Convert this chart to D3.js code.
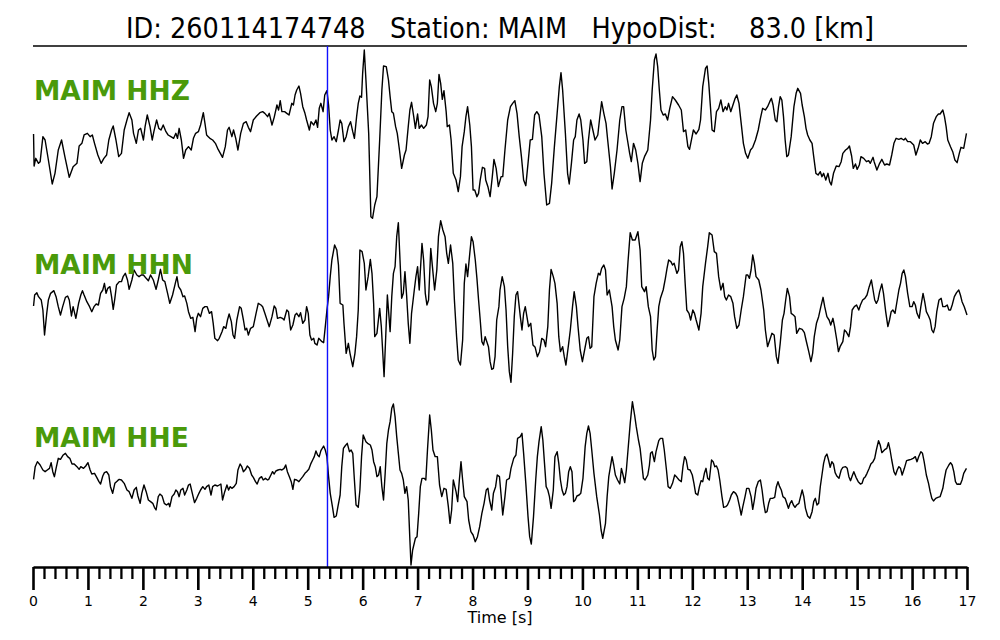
<!DOCTYPE html>
<html>
<head>
<meta charset="utf-8">
<script src="https://cdn.jsdelivr.net/npm/d3@7"></script>
<style>
  html, body { margin: 0; padding: 0; background: #fff; }
  svg { display: block; font-family: "DejaVu Sans", sans-serif; }
</style>
</head>
<body>
<svg id="chart" width="1000" height="640"></svg>
<script>
// ---------------- data ----------------
const eventId = "260114174748";
const station = "MAIM";
const hypoDist = "83.0";
const channels = ["MAIM HHZ", "MAIM HHN", "MAIM HHE"];
const pickTime = 5.36;           // P arrival marker [s]
const majorTicks = d3.range(0, 18, 1);
const minorTicks = d3.range(0, 85, 1).map(i => i / 5).filter(v => v % 1 !== 0);

// [time s, amplitude counts]
const hhz = [[0.01,-5],[0.02,-101],[0.05,-78],[0.10,-93],[0.13,-88],[0.18,-13],[0.22,-23],[0.28,-83],[0.35,-155],[0.40,-123],[0.46,-53],[0.52,-23],[0.58,-73],[0.66,-135],[0.73,-103],[0.80,-93],[0.84,-41],[0.89,-33],[0.93,-8],[0.99,-3],[1.04,-13],[1.08,-8],[1.12,-33],[1.18,-68],[1.24,-93],[1.29,-78],[1.34,-68],[1.38,-23],[1.43,7],[1.46,19],[1.51,-23],[1.56,-73],[1.61,-63],[1.66,7],[1.71,37],[1.75,59],[1.80,37],[1.83,-3],[1.88,-33],[1.92,7],[1.96,12],[2.01,-23],[2.04,17],[2.08,52],[2.13,17],[2.17,-23],[2.20,2],[2.25,37],[2.29,12],[2.33,7],[2.37,22],[2.42,2],[2.46,-8],[2.51,-13],[2.56,-18],[2.60,-3],[2.63,-18],[2.66,12],[2.70,-23],[2.74,-78],[2.78,-53],[2.83,-43],[2.88,-53],[2.92,-18],[2.96,-3],[3.01,2],[3.05,22],[3.10,59],[3.13,27],[3.16,-8],[3.19,-13],[3.22,-18],[3.27,-23],[3.32,-33],[3.36,-48],[3.41,-63],[3.45,-75],[3.50,-43],[3.54,7],[3.57,15],[3.62,-13],[3.65,7],[3.69,-18],[3.73,-53],[3.78,-3],[3.83,27],[3.88,32],[3.92,15],[3.96,2],[4.01,37],[4.07,49],[4.13,59],[4.18,62],[4.22,57],[4.27,47],[4.30,57],[4.35,22],[4.39,45],[4.44,82],[4.47,67],[4.50,95],[4.53,62],[4.58,62],[4.62,57],[4.66,52],[4.71,87],[4.74,82],[4.77,112],[4.80,127],[4.84,139],[4.87,117],[4.91,77],[4.95,57],[4.98,37],[5.03,7],[5.06,32],[5.11,22],[5.15,37],[5.18,15],[5.21,72],[5.24,87],[5.28,62],[5.31,112],[5.35,125],[5.38,82],[5.41,7],[5.44,-23],[5.48,-13],[5.52,-28],[5.56,7],
[5.59,37],[5.62,27],[5.66,-28],[5.70,-13],[5.74,17],[5.78,32],[5.82,2],[5.85,-18],[5.89,47],[5.92,87],[5.95,109],[5.98,105],[6.00,177],[6.03,247],[6.06,157],[6.11,-3],[6.15,-253],[6.18,-258],[6.22,-218],[6.26,-193],[6.31,-23],[6.35,127],[6.38,199],[6.43,197],[6.47,157],[6.50,107],[6.53,62],[6.56,57],[6.60,17],[6.63,-3],[6.67,-53],[6.71,-108],[6.76,-68],[6.79,-53],[6.83,17],[6.86,67],[6.89,90],[6.93,47],[6.96,12],[7.00,55],[7.03,12],[7.07,22],[7.11,12],[7.16,22],[7.19,47],[7.22,157],[7.25,137],[7.29,87],[7.33,62],[7.36,87],[7.39,174],[7.42,147],[7.45,99],[7.48,125],[7.52,62],[7.54,17],[7.58,22],[7.61,-23],[7.65,-123],[7.70,-143],[7.74,-178],[7.78,-133],[7.81,-43],[7.85,2],[7.88,47],[7.91,77],[7.95,22],[7.98,-43],[8.01,-173],[8.04,-173],[8.08,-193],[8.11,-183],[8.14,-143],[8.18,-105],[8.22,-108],[8.24,-143],[8.28,-163],[8.32,-193],[8.36,-133],[8.39,-81],[8.43,-108],[8.47,-163],[8.52,-133],[8.55,-133],[8.59,-53],[8.64,37],[8.69,77],[8.73,87],[8.77,95],[8.81,57],[8.85,-13],[8.89,-73],[8.93,-143],[8.97,-160],[9.01,-93],[9.05,-23],[9.09,-21],[9.13,52],[9.17,62],[9.21,52],[9.26,-13],[9.30,-123],[9.35,-218],[9.40,-213],[9.44,-153],[9.49,-43],[9.54,57],[9.58,137],[9.61,179],[9.64,127],[9.69,-3],[9.73,-123],[9.76,-155],[9.80,-93],[9.84,-23],[9.87,-13],[9.90,37],[9.94,55],[9.97,37],[10.01,-23],[10.04,-93],[10.08,-88],[10.11,-23],[10.15,37],[10.19,7],[10.23,-23],[10.28,-8],[10.31,37],[10.35,92],[10.39,57],[10.43,27],[10.46,-23],[10.51,-103],[10.54,-170],[10.58,-123],[10.63,-53],[10.68,37],[10.72,77],[10.75,77],[10.79,7],[10.82,-23],[10.86,-63],[10.89,-88],[10.93,-33],[10.97,-53],[11.01,-93],[11.05,-148],[11.09,-93],[11.13,-73],[11.16,-63],[11.19,-53],[11.24,37],
[11.27,127],[11.31,217],[11.34,235],[11.37,197],[11.40,127],[11.43,67],[11.47,52],[11.51,55],[11.55,37],[11.59,72],[11.64,107],[11.69,97],[11.75,82],[11.80,67],[11.84,2],[11.88,7],[11.92,-43],[11.95,-51],[11.99,-18],[12.02,7],[12.07,-5],[12.12,9],[12.15,37],[12.19,137],[12.24,192],[12.27,199],[12.30,147],[12.33,77],[12.36,7],[12.40,2],[12.44,62],[12.48,72],[12.52,97],[12.56,62],[12.60,77],[12.63,67],[12.66,87],[12.70,62],[12.74,82],[12.78,102],[12.81,112],[12.85,87],[12.89,27],[12.93,-33],[12.97,-63],[13.01,-78],[13.06,-53],[13.10,-45],[13.15,-23],[13.20,7],[13.24,42],[13.28,72],[13.33,67],[13.37,77],[13.41,92],[13.44,102],[13.47,82],[13.51,37],[13.54,32],[13.57,77],[13.60,107],[13.63,97],[13.66,47],[13.69,-23],[13.72,-73],[13.75,-68],[13.80,-13],[13.85,77],[13.89,117],[13.92,132],[13.97,117],[14.00,82],[14.04,47],[14.07,12],[14.10,-8],[14.14,-23],[14.18,-33],[14.21,-73],[14.25,-123],[14.29,-128],[14.33,-118],[14.36,-133],[14.39,-123],[14.43,-143],[14.47,-123],[14.50,-148],[14.53,-158],[14.57,-123],[14.62,-101],[14.67,-103],[14.71,-88],[14.74,-63],[14.79,-53],[14.83,-48],[14.86,-41],[14.90,-71],[14.93,-108],[14.97,-95],[15.00,-111],[15.04,-98],[15.07,-73],[15.12,-78],[15.17,-88],[15.21,-85],[15.24,-93],[15.29,-75],[15.31,-88],[15.36,-113],[15.41,-93],[15.45,-81],[15.50,-98],[15.54,-95],[15.59,-98],[15.63,-68],[15.67,-33],[15.71,-18],[15.76,-21],[15.80,-18],[15.85,-23],[15.88,-18],[15.92,-28],[15.97,-28],[16.03,-38],[16.07,-68],[16.11,-48],[16.15,-23],[16.19,-33],[16.24,-28],[16.28,-35],[16.31,-33],[16.35,-13],[16.39,27],[16.44,47],[16.48,55],[16.51,55],[16.56,67],[16.59,47],[16.62,17],[16.65,-23],[16.70,-43],[16.74,-58],[16.78,-83],[16.82,-91],[16.86,-63],[16.89,-45],[16.94,-48],[16.99,-3]];

const hhn = [[0.01,-15],[0.03,18],[0.07,25],[0.10,13],[0.15,3],[0.18,-27],[0.21,-102],[0.25,-37],[0.28,3],[0.32,23],[0.38,31],[0.42,13],[0.46,-17],[0.50,-42],[0.54,-17],[0.59,11],[0.63,15],[0.66,3],[0.70,-45],[0.73,-17],[0.78,-52],[0.83,-7],[0.87,18],[0.90,31],[0.93,18],[0.98,-2],[1.03,-17],[1.07,-32],[1.11,-17],[1.15,-9],[1.19,-12],[1.23,23],[1.27,33],[1.30,53],[1.33,23],[1.36,38],[1.40,43],[1.43,13],[1.46,-25],[1.49,8],[1.52,48],[1.57,58],[1.61,58],[1.64,73],[1.68,83],[1.72,63],[1.75,35],[1.80,63],[1.84,93],[1.89,78],[1.93,73],[1.97,78],[2.01,78],[2.06,68],[2.10,61],[2.14,78],[2.19,63],[2.24,35],[2.28,63],[2.32,95],[2.36,63],[2.40,58],[2.45,23],[2.49,-7],[2.54,18],[2.59,53],[2.62,73],[2.65,43],[2.69,33],[2.73,13],[2.76,15],[2.80,-7],[2.83,-32],[2.87,-52],[2.91,-49],[2.95,-92],[2.98,-52],[3.01,-37],[3.05,-47],[3.09,-22],[3.13,-17],[3.17,-17],[3.21,-37],[3.25,-32],[3.28,-67],[3.31,-112],[3.36,-119],[3.39,-112],[3.44,-92],[3.47,-77],[3.51,-82],[3.54,-57],[3.57,-39],[3.61,-62],[3.64,-102],[3.67,-112],[3.71,-57],[3.76,-17],[3.79,-22],[3.83,-57],[3.86,-87],[3.89,-82],[3.92,-102],[3.96,-82],[4.01,-77],[4.06,-37],[4.10,-7],[4.15,-12],[4.18,-17],[4.22,-37],[4.27,-62],[4.30,-77],[4.35,-47],[4.39,-15],[4.42,-22],[4.45,-52],[4.50,-49],[4.54,-52],[4.57,-57],[4.62,-27],[4.65,-32],[4.69,-87],[4.73,-72],[4.77,-42],[4.80,-37],[4.84,-47],[4.87,-35],[4.91,-67],[4.95,-57],[4.98,-17],[5.01,-37],[5.04,-102],[5.07,-117],[5.11,-112],[5.13,-127],[5.17,-132],[5.20,-112],[5.23,-117],[5.26,-122],[5.29,-125],[5.32,-77],[5.35,-27],[5.38,13],[5.41,73],[5.44,123],[5.49,168],[5.53,153],[5.56,108],
[5.59,-7],[5.64,-12],[5.66,-67],[5.70,-157],[5.74,-127],[5.77,-157],[5.82,-197],[5.86,-157],[5.89,-107],[5.92,-27],[5.95,153],[5.99,148],[6.03,113],[6.06,33],[6.10,73],[6.14,125],[6.17,83],[6.20,-7],[6.22,-107],[6.26,-97],[6.31,-22],[6.34,-77],[6.39,-227],[6.42,-107],[6.45,18],[6.50,-92],[6.53,13],[6.56,83],[6.59,103],[6.62,193],[6.65,235],[6.68,123],[6.71,8],[6.74,23],[6.77,88],[6.80,18],[6.83,-67],[6.86,-127],[6.89,-37],[6.94,33],[6.97,73],[7.00,103],[7.03,33],[7.08,173],[7.11,123],[7.14,23],[7.17,-12],[7.20,3],[7.24,158],[7.27,103],[7.31,33],[7.35,93],[7.38,193],[7.42,241],[7.46,213],[7.50,193],[7.53,143],[7.56,113],[7.60,168],[7.64,113],[7.67,3],[7.71,-107],[7.74,-177],[7.78,-192],[7.82,-117],[7.85,53],[7.88,111],[7.91,73],[7.95,143],[7.98,193],[8.01,178],[8.05,123],[8.08,68],[8.11,3],[8.14,-57],[8.17,-122],[8.20,-132],[8.23,-107],[8.26,-122],[8.29,-137],[8.32,-182],[8.35,-205],[8.38,-202],[8.41,-167],[8.44,-57],[8.48,-17],[8.50,33],[8.54,73],[8.58,43],[8.61,-27],[8.64,-137],[8.67,-212],[8.70,-244],[8.73,-157],[8.76,-47],[8.79,18],[8.82,28],[8.87,-47],[8.90,-87],[8.93,-37],[8.96,-17],[8.99,-47],[9.02,-77],[9.06,-67],[9.10,-132],[9.14,-139],[9.18,-167],[9.22,-152],[9.26,-112],[9.30,-117],[9.33,-137],[9.37,-77],[9.40,33],[9.43,95],[9.47,73],[9.50,53],[9.54,-7],[9.57,-107],[9.60,-152],[9.64,-137],[9.67,-167],[9.70,-192],[9.75,-127],[9.78,-87],[9.82,-17],[9.85,28],[9.89,-17],[9.92,-77],[9.96,-147],[10.00,-182],[10.04,-147],[10.08,-112],[10.11,-107],[10.14,-142],[10.17,-137],[10.21,13],[10.25,53],[10.29,83],[10.32,78],[10.35,98],[10.39,108],[10.42,93],[10.45,18],[10.49,33],[10.54,-17],[10.57,-77],[10.60,-117],[10.65,-147],[10.68,-117],[10.72,-17],[10.76,8],[10.80,43],[10.83,118],[10.87,205],[10.91,183],[10.96,183],[11.01,208],[11.05,153],[11.08,43],[11.13,28],[11.16,43],[11.20,-17],
[11.24,-47],[11.27,-147],[11.30,-177],[11.33,-167],[11.36,-87],[11.39,-17],[11.42,8],[11.47,33],[11.51,68],[11.54,98],[11.57,123],[11.61,118],[11.64,108],[11.67,113],[11.72,83],[11.75,93],[11.78,163],[11.81,178],[11.84,143],[11.87,53],[11.90,-27],[11.94,-37],[11.97,-57],[12.01,-27],[12.04,-37],[12.07,-57],[12.12,-87],[12.16,-37],[12.19,43],[12.24,113],[12.28,163],[12.31,205],[12.36,198],[12.40,148],[12.44,143],[12.48,73],[12.52,33],[12.56,53],[12.59,13],[12.62,3],[12.66,18],[12.70,13],[12.74,-7],[12.77,-47],[12.81,-82],[12.85,-72],[12.89,-27],[12.93,13],[12.98,78],[13.01,78],[13.04,68],[13.07,93],[13.10,138],[13.13,113],[13.16,73],[13.21,63],[13.25,33],[13.30,-27],[13.33,-87],[13.37,-137],[13.41,-117],[13.45,-97],[13.49,-102],[13.53,-167],[13.56,-187],[13.60,-127],[13.64,-57],[13.67,-37],[13.70,3],[13.73,38],[13.77,13],[13.80,-37],[13.84,-42],[13.87,-47],[13.90,-97],[13.95,-82],[14.00,-85],[14.04,-95],[14.07,-117],[14.12,-152],[14.16,-182],[14.19,-157],[14.22,-107],[14.26,-67],[14.30,-47],[14.34,-17],[14.38,11],[14.41,-17],[14.45,-47],[14.49,-57],[14.52,-72],[14.56,-52],[14.59,-77],[14.63,-117],[14.66,-152],[14.69,-137],[14.74,-122],[14.77,-87],[14.80,-92],[14.85,-107],[14.88,-77],[14.91,-27],[14.95,-17],[14.99,-12],[15.03,-27],[15.06,-12],[15.10,3],[15.14,8],[15.18,18],[15.22,43],[15.26,63],[15.29,33],[15.32,3],[15.35,-7],[15.38,3],[15.41,28],[15.45,51],[15.48,23],[15.52,-32],[15.56,-77],[15.59,-57],[15.62,-32],[15.65,-27],[15.69,-37],[15.73,3],[15.76,33],[15.79,53],[15.82,83],[15.85,93],[15.88,73],[15.92,23],[15.96,-17],[16.00,-17],[16.03,-2],[16.06,-12],[16.09,-37],[16.13,-52],[16.16,-17],[16.20,23],[16.23,-2],[16.26,-32],[16.30,-45],[16.33,-57],[16.36,-87],[16.39,-95],[16.42,-77],[16.45,-32],[16.49,3],[16.53,8],[16.56,-17],[16.60,-17],[16.64,-12],[16.67,-27],[16.70,-27],[16.73,-12],[16.77,13],[16.81,25],[16.85,33],[16.88,18],[16.91,-2],[16.95,-17],[17.00,-42]];

const hhe = [[0.01,9],[0.04,47],[0.08,62],[0.13,52],[0.18,37],[0.22,32],[0.26,37],[0.30,42],[0.33,59],[0.36,32],[0.39,17],[0.42,42],[0.46,72],[0.50,69],[0.55,82],[0.59,87],[0.63,77],[0.67,72],[0.71,55],[0.75,55],[0.80,47],[0.84,39],[0.87,47],[0.92,42],[0.96,49],[1.00,59],[1.04,37],[1.07,25],[1.12,27],[1.16,15],[1.20,2],[1.23,-5],[1.27,19],[1.30,29],[1.34,32],[1.38,22],[1.41,-13],[1.45,-33],[1.49,-3],[1.54,5],[1.57,9],[1.61,7],[1.66,-3],[1.71,-23],[1.75,-28],[1.80,-48],[1.84,-23],[1.88,-15],[1.91,-41],[1.95,-63],[1.98,-33],[2.02,-8],[2.06,-28],[2.10,-53],[2.14,-58],[2.18,-63],[2.21,-75],[2.24,-83],[2.28,-43],[2.31,-35],[2.35,-41],[2.39,-63],[2.43,-68],[2.47,-63],[2.49,-73],[2.53,-43],[2.57,-35],[2.60,-23],[2.63,-28],[2.66,-43],[2.69,-23],[2.73,-18],[2.76,-38],[2.80,-23],[2.83,-8],[2.86,-5],[2.90,-33],[2.94,-61],[2.98,-48],[3.02,-33],[3.05,-23],[3.09,-13],[3.13,-21],[3.16,-13],[3.20,-8],[3.24,-38],[3.27,-13],[3.31,-8],[3.36,-11],[3.39,-8],[3.42,-5],[3.45,-53],[3.49,-28],[3.53,-8],[3.56,-23],[3.59,-13],[3.62,-18],[3.66,-13],[3.70,-3],[3.73,37],[3.77,55],[3.80,47],[3.83,32],[3.87,39],[3.90,49],[3.94,42],[3.98,22],[4.01,15],[4.05,2],[4.08,-5],[4.12,12],[4.16,17],[4.19,7],[4.23,12],[4.27,7],[4.29,9],[4.33,22],[4.36,32],[4.39,25],[4.42,34],[4.46,37],[4.50,39],[4.53,37],[4.57,42],[4.60,52],[4.63,32],[4.67,15],[4.70,2],[4.73,-21],[4.76,9],[4.80,7],[4.84,2],[4.87,9],[4.91,17],[4.95,27],[4.98,32],[5.02,39],[5.06,57],[5.09,67],[5.12,77],[5.15,94],[5.18,82],[5.21,77],[5.24,95],[5.29,109],[5.32,97],[5.35,77],[5.38,17],[5.41,-33],[5.45,-73],[5.48,-105],[5.52,-101],[5.55,-73],[5.59,-38],
[5.62,47],[5.65,102],[5.68,109],[5.72,117],[5.76,92],[5.79,97],[5.82,87],[5.85,7],[5.88,-68],[5.92,-75],[5.95,-23],[5.98,77],[6.01,142],[6.06,122],[6.09,117],[6.14,112],[6.17,97],[6.20,62],[6.23,47],[6.26,17],[6.29,22],[6.32,47],[6.35,-13],[6.38,-53],[6.41,27],[6.44,117],[6.47,157],[6.50,182],[6.53,222],[6.56,235],[6.59,197],[6.62,137],[6.65,87],[6.68,37],[6.71,27],[6.74,7],[6.77,-33],[6.80,-13],[6.83,-53],[6.86,-173],[6.88,-248],[6.91,-203],[6.96,-168],[6.99,-163],[7.02,-93],[7.05,-13],[7.08,12],[7.12,12],[7.15,7],[7.18,97],[7.22,202],[7.25,157],[7.28,97],[7.32,77],[7.36,77],[7.40,-8],[7.44,-43],[7.48,-18],[7.52,-21],[7.56,-73],[7.59,-123],[7.62,-83],[7.65,7],[7.70,-28],[7.73,-58],[7.76,7],[7.79,62],[7.82,7],[7.85,-43],[7.90,-58],[7.93,-113],[7.97,-148],[8.01,-158],[8.05,-178],[8.09,-163],[8.13,-133],[8.17,-93],[8.21,-63],[8.25,-23],[8.28,-18],[8.31,-53],[8.35,-83],[8.38,-33],[8.42,-13],[8.45,22],[8.49,17],[8.52,-38],[8.55,-98],[8.59,-43],[8.62,7],[8.67,12],[8.70,42],[8.75,72],[8.79,82],[8.82,132],[8.87,137],[8.90,147],[8.93,87],[8.97,-3],[9.01,-103],[9.04,-163],[9.07,-185],[9.11,-103],[9.15,7],[9.18,77],[9.21,122],[9.25,167],[9.28,127],[9.31,57],[9.34,-13],[9.37,-23],[9.40,-43],[9.43,-78],[9.47,-23],[9.50,77],[9.54,92],[9.57,57],[9.60,7],[9.63,-23],[9.66,-38],[9.69,-33],[9.72,-13],[9.75,32],[9.78,47],[9.81,32],[9.84,-58],[9.87,-53],[9.90,-41],[9.94,-38],[9.97,-33],[10.01,12],[10.05,107],[10.08,147],[10.11,169],[10.14,147],[10.17,97],[10.21,27],[10.26,-43],[10.31,-98],[10.34,-143],[10.37,-168],[10.42,-123],[10.45,-43],[10.48,17],[10.51,47],[10.54,77],[10.57,52],[10.60,22],[10.64,7],[10.68,-5],[10.71,42],[10.74,22],[10.77,-1],[10.80,37],[10.83,97],[10.87,177],[10.91,242],[10.95,202],[10.98,167],[11.02,127],[11.05,102],[11.08,57],[11.11,12],[11.14,7],[11.19,22],[11.22,52],
[11.24,87],[11.27,92],[11.31,62],[11.34,92],[11.39,125],[11.42,132],[11.46,132],[11.49,97],[11.53,37],[11.56,-13],[11.60,-18],[11.64,-3],[11.68,22],[11.72,15],[11.76,7],[11.80,2],[11.83,47],[11.86,77],[11.89,67],[11.92,39],[11.96,37],[12.00,22],[12.03,-3],[12.06,-33],[12.10,-38],[12.13,-13],[12.16,5],[12.19,2],[12.22,27],[12.25,42],[12.28,12],[12.31,7],[12.35,67],[12.38,62],[12.41,47],[12.44,49],[12.47,37],[12.50,7],[12.54,-43],[12.57,-75],[12.61,-73],[12.64,-68],[12.68,-53],[12.71,-38],[12.75,-28],[12.79,-33],[12.82,-43],[12.86,-73],[12.89,-98],[12.92,-73],[12.96,-43],[12.99,-18],[13.03,-18],[13.07,-43],[13.10,-81],[13.13,-53],[13.16,-18],[13.20,2],[13.24,7],[13.27,-23],[13.30,-63],[13.33,-91],[13.36,-88],[13.39,-63],[13.42,-48],[13.46,-48],[13.50,-45],[13.53,-13],[13.56,2],[13.59,-13],[13.62,-23],[13.65,-43],[13.69,-48],[13.72,-63],[13.75,-78],[13.78,-63],[13.81,-55],[13.84,-68],[13.87,-75],[13.90,-68],[13.94,-63],[13.97,-43],[14.00,-23],[14.03,-43],[14.06,-78],[14.10,-101],[14.14,-108],[14.18,-88],[14.21,-58],[14.24,-48],[14.27,-68],[14.30,-63],[14.33,-13],[14.36,22],[14.39,57],[14.42,77],[14.45,85],[14.48,67],[14.51,45],[14.54,62],[14.57,55],[14.60,29],[14.63,19],[14.67,12],[14.71,37],[14.74,45],[14.79,47],[14.82,42],[14.85,17],[14.88,5],[14.91,19],[14.94,32],[14.98,15],[15.02,2],[15.06,-5],[15.09,-3],[15.12,12],[15.15,17],[15.18,27],[15.22,42],[15.25,55],[15.29,62],[15.32,72],[15.35,97],[15.39,125],[15.42,112],[15.45,89],[15.48,94],[15.51,99],[15.54,102],[15.57,119],[15.60,97],[15.63,67],[15.67,32],[15.70,22],[15.73,37],[15.76,47],[15.79,42],[15.82,22],[15.86,42],[15.90,65],[15.94,67],[15.98,69],[16.02,72],[16.06,77],[16.09,62],[16.12,77],[16.16,92],[16.19,87],[16.22,62],[16.26,22],[16.30,-3],[16.33,-28],[16.36,-48],[16.39,-56],[16.43,-48],[16.47,-45],[16.51,-43],[16.56,-18],[16.59,12],[16.62,37],[16.67,52],[16.70,59],[16.73,52],[16.76,32],[16.79,2],[16.82,-6],[16.85,-5],[16.88,-6],[16.91,7],[16.94,27],[16.99,42]];

const traces = [hhz, hhn, hhe];

// ---------------- layout ----------------
const svg = d3.select("#chart");
const left = 33, right = 967;
const axisY = 567, topLineY = 46;
const traceCenters = [132.33, 301, 482.33];
const labelBaselines = [100, 274, 447];

const x = d3.scaleLinear().domain([0, 17]).range([left, right]);
const amp = d3.scaleLinear().domain([-255, 255]).range([85, -85]);

// title (condensed look: taller glyphs squeezed to the reference width)
svg.append("text")
  .attr("x", 126).attr("y", 38)
  .attr("textLength", 748)
  .attr("lengthAdjust", "spacingAndGlyphs")
  .style("font-size", "28px")
  .style("white-space", "pre")
  .attr("fill", "#000")
  .text(`ID: ${eventId}   Station: ${station}   HypoDist:    ${hypoDist} [km]`);

// top rule
svg.append("line")
  .attr("x1", left).attr("x2", right)
  .attr("y1", topLineY).attr("y2", topLineY)
  .attr("stroke", "#000").attr("stroke-width", 1.6);

// traces
const line = d3.line().x(d => x(d[0])).y(d => amp(d[1]));
traces.forEach((tr, i) => {
  svg.append("g")
    .attr("transform", `translate(0,${traceCenters[i]})`)
    .append("path")
    .attr("d", line(tr))
    .attr("fill", "none")
    .attr("stroke", "#000")
    .attr("stroke-width", 1.4)
    .attr("stroke-linejoin", "round");
});

// channel labels
channels.forEach((c, i) => {
  svg.append("text")
    .attr("x", 34).attr("y", labelBaselines[i])
    .style("font-size", "26.5px")
    .style("font-weight", "bold")
    .attr("fill", "#4a9a0a")
    .text(c);
});

// pick line
svg.append("line")
  .attr("x1", x(pickTime)).attr("x2", x(pickTime))
  .attr("y1", topLineY).attr("y2", axisY)
  .attr("stroke", "#1010ff").attr("stroke-width", 1.4);

// axis (major)
const gMajor = svg.append("g").attr("transform", `translate(0,${axisY})`)
  .call(d3.axisBottom(x).tickValues(majorTicks).tickSize(23).tickSizeOuter(0)
        .tickPadding(6).tickFormat(d3.format("d")));
gMajor.select(".domain").attr("stroke", "#000").attr("stroke-width", 2.6);
gMajor.selectAll(".tick line").attr("stroke", "#000").attr("stroke-width", 2.6);
gMajor.selectAll(".tick text").style("font-size", "14px")
  .style("font-family", "DejaVu Sans, sans-serif").attr("fill", "#000");

// axis (minor)
const gMinor = svg.append("g").attr("transform", `translate(0,${axisY})`)
  .call(d3.axisBottom(x).tickValues(minorTicks).tickSize(12).tickSizeOuter(0).tickFormat(""));
gMinor.select(".domain").remove();
gMinor.selectAll(".tick line").attr("stroke", "#000").attr("stroke-width", 2.3);

// axis title
svg.append("text")
  .attr("x", 500).attr("y", 623)
  .attr("text-anchor", "middle")
  .style("font-size", "16px")
  .text("Time [s]");
</script>
</body>
</html>
